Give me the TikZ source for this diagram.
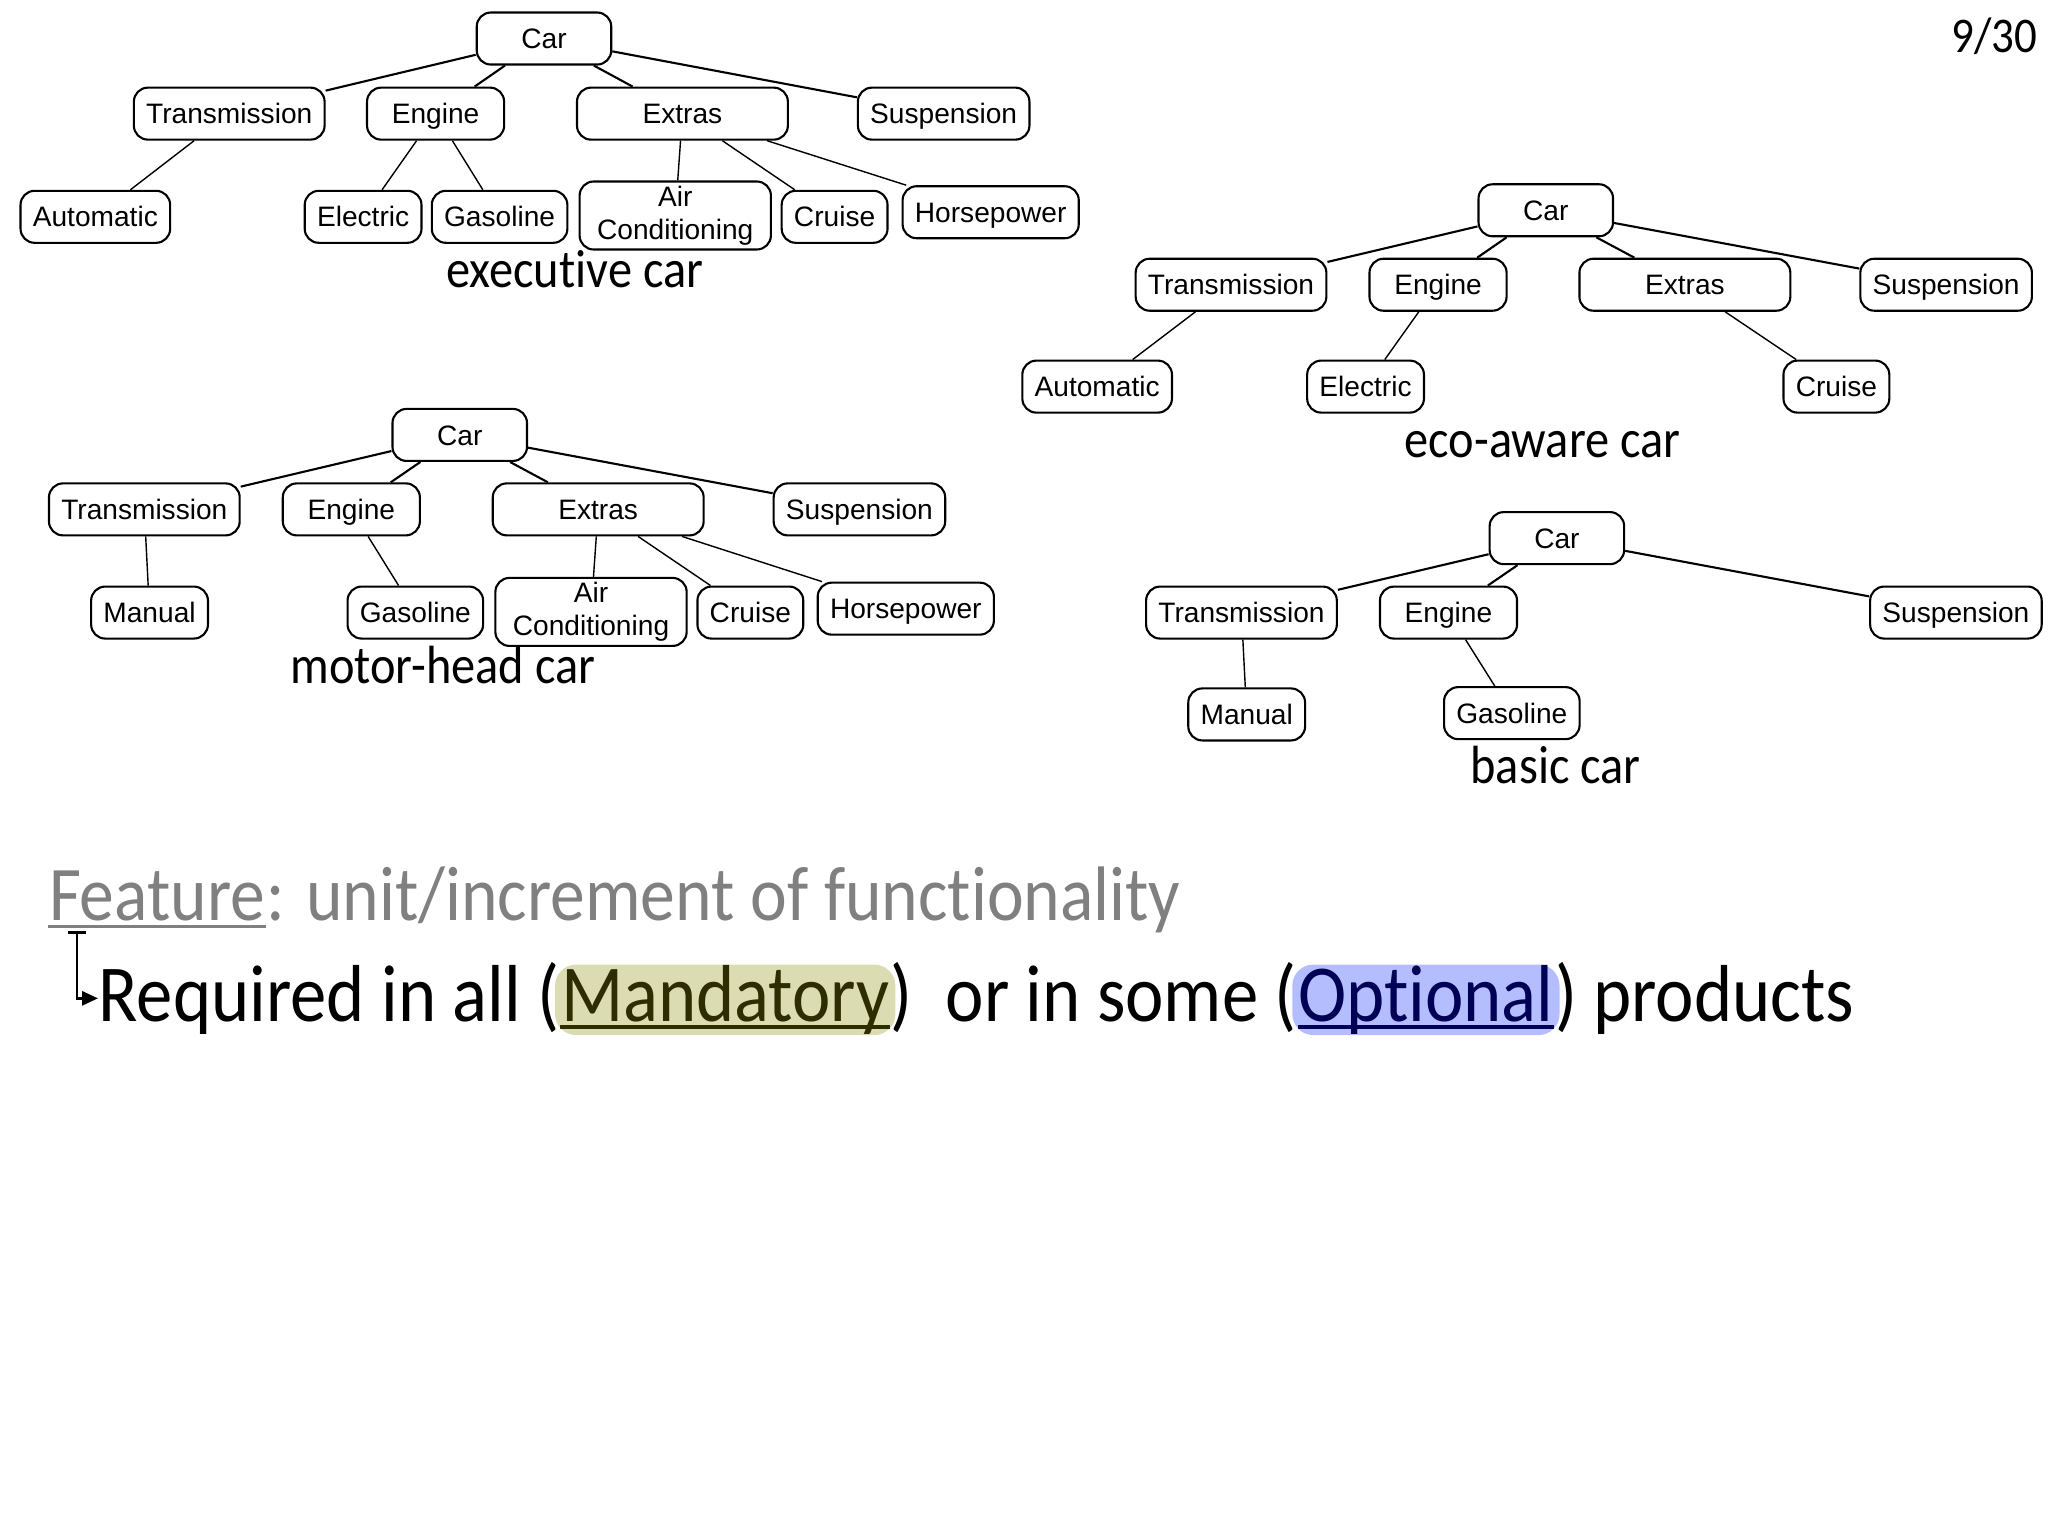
\documentclass[tikz,border=0pt]{standalone}
\usepackage{fontspec}
\newfontfamily\boxfont{Liberation Sans}
\newfontfamily\gillfont[FakeStretch=0.9,Ligatures=NoCommon]{Carlito}
\usetikzlibrary{arrows.meta,backgrounds}
\definecolor{featgray}{RGB}{128,128,128}
\definecolor{mandfill}{RGB}{220,220,178}
\definecolor{mandtext}{RGB}{45,45,0}
\definecolor{optfill}{RGB}{180,190,255}
\definecolor{opttext}{RGB}{0,0,85}

\begin{document}
\begin{tikzpicture}[x=0.013061cm,y=-0.013061cm,
  box/.style={draw,rounded corners=4pt,line width=0.6pt,
    font=\boxfont\fontsize{8}{9.4}\selectfont,inner xsep=3.5pt,inner ysep=1pt,
    minimum height=0.52cm},
  feat/.style={box,text height=5.73pt,text depth=0pt},
  twoline/.style={box,minimum width=1.913cm,minimum height=0.68cm,align=center},
  wide/.style={minimum width=#1},
  link/.style={line width=0.6pt},
  carname/.style={font=\gillfont\fontsize{15.3}{18}\selectfont,anchor=base},
  big/.style={font=\gillfont\fontsize{23}{27}\selectfont,inner sep=0pt,anchor=base west}]

  \useasboundingbox (0,0) rectangle (1568,1176);

  % executive car
  \node[feat,wide=1.345cm] (exCar) at (416.5,29.5) {Car};
  \node[feat] (exTrans) at (175.5,87) {Transmission};
  \node[feat,wide=1.371cm] (exEngine) at (333.5,87) {Engine};
  \node[feat,wide=2.109cm] (exExtras) at (522.5,87) {Extras};
  \node[feat] (exSusp) at (722.5,87) {Suspension};
  \node[feat] (exAuto) at (73,166) {Automatic};
  \node[feat] (exElec) at (278,166) {Electric};
  \node[feat] (exGas) at (382.5,166) {Gasoline};
  \node[twoline] (exAir) at (517,165) {Air\\Conditioning};
  \node[feat] (exCruise) at (639,166) {Cruise};
  \node[feat] (exHorse) at (758.5,162.5) {Horsepower};
  \node[carname] (exLabel) at (440,220) {executive car};
  \draw[link] (exCar) -- (exTrans);
  \draw[link] (exCar) -- (exEngine);
  \draw[link] (exCar) -- (exExtras);
  \draw[link] (exCar) -- (exSusp);
  \draw (exTrans) -- (exAuto);
  \draw (exEngine) -- (exElec);
  \draw (exEngine) -- (exGas);
  \draw (exExtras) -- (exAir);
  \draw (exExtras) -- (exCruise);
  \draw (exExtras) -- (exHorse);

  % eco-aware car
  \node[feat,wide=1.345cm] (ecoCar) at (1183.5,161) {Car};
  \node[feat] (ecoTrans) at (942.5,218) {Transmission};
  \node[feat,wide=1.371cm] (ecoEngine) at (1101,218) {Engine};
  \node[feat,wide=2.109cm] (ecoExtras) at (1290,218) {Extras};
  \node[feat] (ecoSusp) at (1490,218) {Suspension};
  \node[feat] (ecoAuto) at (840,296) {Automatic};
  \node[feat] (ecoElec) at (1045.5,296) {Electric};
  \node[feat] (ecoCruise) at (1406,296) {Cruise};
  \node[carname] (ecoLabel) at (1181,350) {eco-aware car};
  \draw[link] (ecoCar) -- (ecoTrans);
  \draw[link] (ecoCar) -- (ecoEngine);
  \draw[link] (ecoCar) -- (ecoExtras);
  \draw[link] (ecoCar) -- (ecoSusp);
  \draw (ecoTrans) -- (ecoAuto);
  \draw (ecoEngine) -- (ecoElec);
  \draw (ecoExtras) -- (ecoCruise);

  % motor-head car
  \node[feat,wide=1.345cm] (mhCar) at (352,333) {Car};
  \node[feat] (mhTrans) at (110.5,390) {Transmission};
  \node[feat,wide=1.371cm] (mhEngine) at (269,390) {Engine};
  \node[feat,wide=2.109cm] (mhExtras) at (458,390) {Extras};
  \node[feat] (mhSusp) at (658,390) {Suspension};
  \node[feat] (mhManual) at (114.5,469) {Manual};
  \node[feat] (mhGas) at (318,469) {Gasoline};
  \node[twoline] (mhAir) at (452.5,468.5) {Air\\Conditioning};
  \node[feat] (mhCruise) at (574.5,469) {Cruise};
  \node[feat] (mhHorse) at (693.5,466) {Horsepower};
  \node[carname] (mhLabel) at (339,523) {motor-head car};
  \draw[link] (mhCar) -- (mhTrans);
  \draw[link] (mhCar) -- (mhEngine);
  \draw[link] (mhCar) -- (mhExtras);
  \draw[link] (mhCar) -- (mhSusp);
  \draw (mhTrans) -- (mhManual);
  \draw (mhEngine) -- (mhGas);
  \draw (mhExtras) -- (mhAir);
  \draw (mhExtras) -- (mhCruise);
  \draw (mhExtras) -- (mhHorse);

  % basic car
  \node[feat,wide=1.345cm] (bsCar) at (1192,412) {Car};
  \node[feat] (bsTrans) at (950.5,469) {Transmission};
  \node[feat,wide=1.371cm] (bsEngine) at (1109,469) {Engine};
  \node[feat] (bsSusp) at (1497.5,469) {Suspension};
  \node[feat] (bsManual) at (954.5,547) {Manual};
  \node[feat] (bsGas) at (1157.5,546) {Gasoline};
  \node[carname] (bsLabel) at (1191,600) {basic car};
  \draw[link] (bsCar) -- (bsTrans);
  \draw[link] (bsCar) -- (bsEngine);
  \draw[link] (bsCar) -- (bsSusp);
  \draw (bsTrans) -- (bsManual);
  \draw (bsEngine) -- (bsGas);

  % slide number
  \node[font=\gillfont\fontsize{14.2}{17}\selectfont,anchor=base east] (pagenum) at (1569,40) {9/30};

  % definition lines
  \node[big,featgray,font=\gillfont\fontsize{22}{26}\selectfont] (fword) at (37,705) {Feature};
  \node[big,featgray,font=\gillfont\fontsize{22}{26}\selectfont] (fdef) at (fword.base east) {: unit/increment of functionality};
  \draw[featgray,line width=1.1pt] ([yshift=-1.6pt]fword.base west) -- ([yshift=-1.6pt]fword.base east);

  \node[big] (req) at (75,782) {Required in all (};
  \node[big,mandtext] (mand) at (req.base east) {Mandatory};
  \node[big] (mid) at (mand.base east) {)\ \ or in some (};
  \node[big,opttext] (opt) at (mid.base east) {Optional};
  \node[big] (prod) at (opt.base east) {) products};
  \draw[mandtext,line width=1.1pt] ([yshift=-1.6pt]mand.base west) -- ([yshift=-1.6pt]mand.base east);
  \draw[opttext,line width=1.1pt] ([yshift=-1.6pt]opt.base west) -- ([yshift=-1.6pt]opt.base east);
  \begin{scope}[on background layer]
    \fill[mandfill,rounded corners=6pt] ([xshift=-1.5pt]mand.south west) rectangle ([xshift=1.5pt]mand.north east);
    \fill[optfill,rounded corners=6pt] ([xshift=-1.5pt]opt.south west) rectangle ([xshift=1.5pt]opt.north east);
  \end{scope}

  \coordinate (tee) at (59,713);
  \draw[line width=0.7pt,{Bar[width=5pt]}-{Triangle[length=4.5pt,width=4pt]}] (tee) |- (req.west);
\end{tikzpicture}
\end{document}
